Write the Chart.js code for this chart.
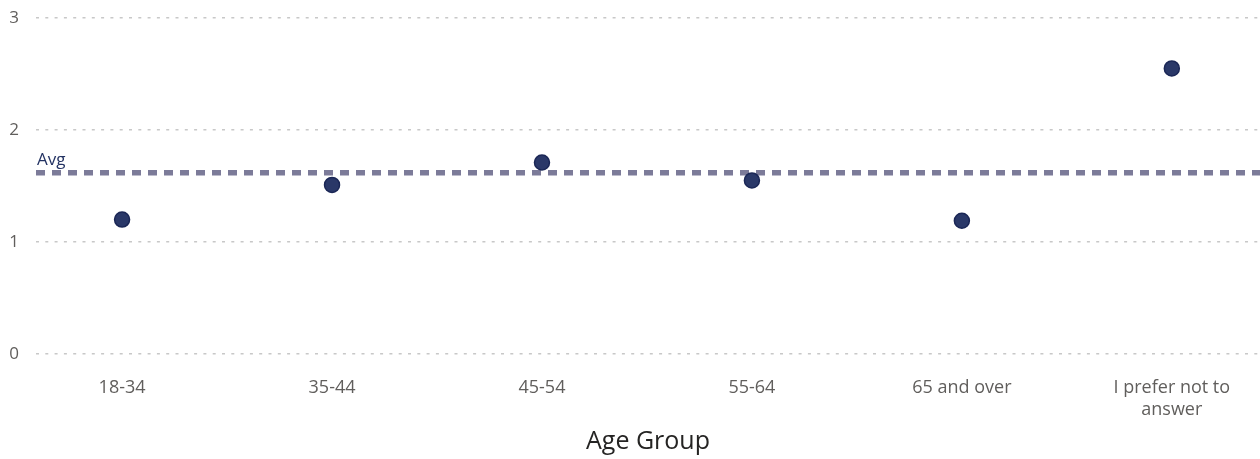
<!DOCTYPE html>
<html>
<head>
<meta charset="utf-8">
<script src="https://cdn.jsdelivr.net/npm/chart.js@4"></script>
<style>
  html, body { margin: 0; padding: 0; background: #fff; overflow: hidden; }
  #wrap { width: 1260px; height: 459px; position: relative; }
</style>
</head>
<body>
<div id="wrap"><canvas id="grafico"></canvas></div>
<script>
const categorie = ["18-34", "35-44", "45-54", "55-64", "65 and over", ["I prefer not to", "answer"]];
const valori = [1.2, 1.51, 1.71, 1.55, 1.19, 2.55];
const yTicks = [0, 1, 2, 3];

// average of the values, shown as a reference line
const media = valori.reduce((a, b) => a + b, 0) / valori.length;

const font = "'Segoe UI', 'Open Sans', sans-serif";

const lineaMedia = {
  id: "lineaMedia",
  beforeDatasetsDraw(chart) {
    const ctx = chart.ctx;
    const area = chart.chartArea;
    const y = chart.scales.y.getPixelForValue(media);
    ctx.save();
    ctx.strokeStyle = "#7c7b99";
    ctx.lineWidth = 5.5;
    ctx.setLineDash([9, 7]);
    ctx.beginPath();
    ctx.moveTo(area.left, y);
    ctx.lineTo(area.right, y);
    ctx.stroke();
    ctx.setLineDash([]);
    ctx.fillStyle = "#243363";
    ctx.font = "17px " + font;
    ctx.textBaseline = "alphabetic";
    ctx.fillText("Avg", area.left + 1, y - 8);
    ctx.restore();
  },
};

const canvas = document.getElementById("grafico");
new Chart(canvas, {
  type: "scatter",
  data: {
    datasets: [
      {
        data: valori.map((v, i) => ({ x: i, y: v })),
        backgroundColor: "#2a3868",
        borderColor: "#1b2756",
        borderWidth: 1.5,
        pointRadius: 7.5,
        pointHoverRadius: 7.5,
      },
    ],
  },
  options: {
    responsive: true,
    maintainAspectRatio: false,
    animation: false,
    layout: { autoPadding: false, padding: { top: 18, right: 0, left: 0, bottom: 2 } },
    plugins: {
      legend: { display: false },
      tooltip: { enabled: false },
    },
    scales: {
      x: {
        type: "linear",
        min: -0.41,
        max: 5.42,
        afterFit: (scale) => {
          scale.paddingLeft = 0;
          scale.paddingRight = 0;
          scale.height = 103;
        },
        grid: { display: false, drawTicks: false },
        border: { display: false },
        ticks: {
          stepSize: 1,
          includeBounds: false,
          autoSkip: false,
          maxRotation: 0,
          padding: 23,
          color: "#605e5c",
          font: { family: font, size: 18, lineHeight: 1.22 },
          callback: (v) => (Number.isInteger(v) ? categorie[v] : ""),
        },
        title: {
          display: true,
          text: "Age Group",
          color: "#252423",
          padding: { top: 6, bottom: 0 },
          font: { family: font, size: 25, lineHeight: 1.2 },
        },
      },
      y: {
        min: 0,
        max: 3,
        afterBuildTicks: (scale) => {
          scale.ticks = yTicks.map((v) => ({ value: v }));
        },
        afterFit: (scale) => {
          scale.width = 36;
          scale.paddingTop = 0;
          scale.paddingBottom = 0;
        },
        grid: {
          color: "#c8c8c8",
          lineWidth: 1.5,
          drawTicks: false,
        },
        border: { display: false, dash: [3, 6.3] },
        ticks: {
          padding: 17,
          color: "#605e5c",
          font: { family: font, size: 17 },
        },
      },
    },
  },
  plugins: [lineaMedia],
});
</script>
</body>
</html>
